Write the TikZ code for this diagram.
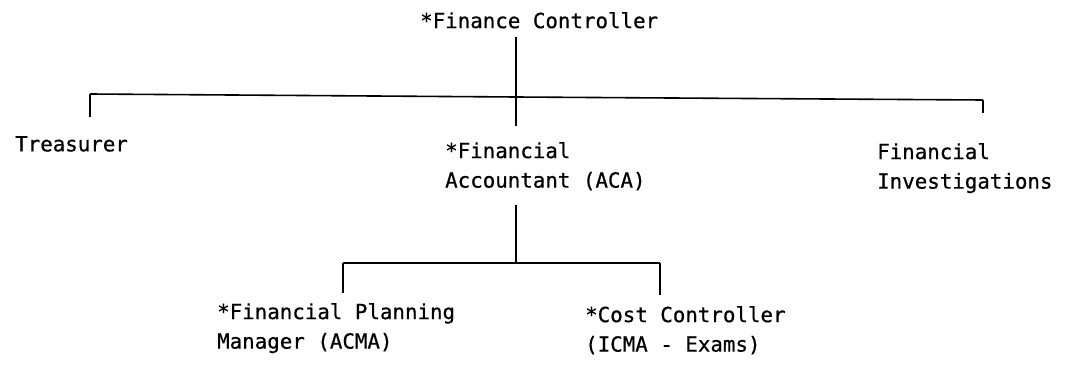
\documentclass[tikz,border=0pt]{standalone}
\usepackage{fontspec}
\setmonofont[FakeBold=0.6]{DejaVu Sans Mono}
\begin{document}
\begin{tikzpicture}[x=1pt,y=1pt,
  post/.style={anchor=north west,inner sep=0pt,align=left,
    font=\ttfamily\fontsize{20.8}{29.5}\selectfont},
  wire/.style={draw=black,line width=1.6pt}]
\useasboundingbox (0,0) rectangle (1078,365);

% posts
\node[post] (fc) at (420,353) {*Finance Controller};
\node[post] (tr) at (15,229) {Treasurer};
\node[post] (fa) at (445,223) {*Financial\\Accountant (ACA)};
\node[post] (fi) at (877,222) {Financial\\Investigations};
\node[post] (fp) at (217,62) {*Financial Planning\\Manager (ACMA)};
\node[post] (cc) at (585,59) {*Cost Controller\\(ICMA - Exams)};

% junctions of the two bars
\coordinate (hubA) at (516,268);
\coordinate (barL) at (90,271);
\coordinate (barR) at (983,265);
\coordinate (hubB) at (516,102);
\coordinate (barBL) at (343,102);
\coordinate (barBR) at (660,102);

% top level
\draw[wire,shorten <=8pt,shorten >=16pt] (fc.south -| hubA) -- (fa.north -| hubA);
\draw[wire] (barL) -- (hubA) -- (barR);
\draw[wire,shorten >=19pt] (barL) -- (barL |- tr.north);
\draw[wire,shorten >=30pt] (barR) -- (barR |- fi.north);

% second level
\draw[wire,shorten <=14pt] (fa.south -| hubB) -- (hubB);
\draw[wire] (barBL) -- (barBR);
\draw[wire,shorten >=10pt] (barBL) -- (barBL |- fp.north);
\draw[wire,shorten >=11pt] (barBR) -- (barBR |- cc.north);
\end{tikzpicture}
\end{document}
